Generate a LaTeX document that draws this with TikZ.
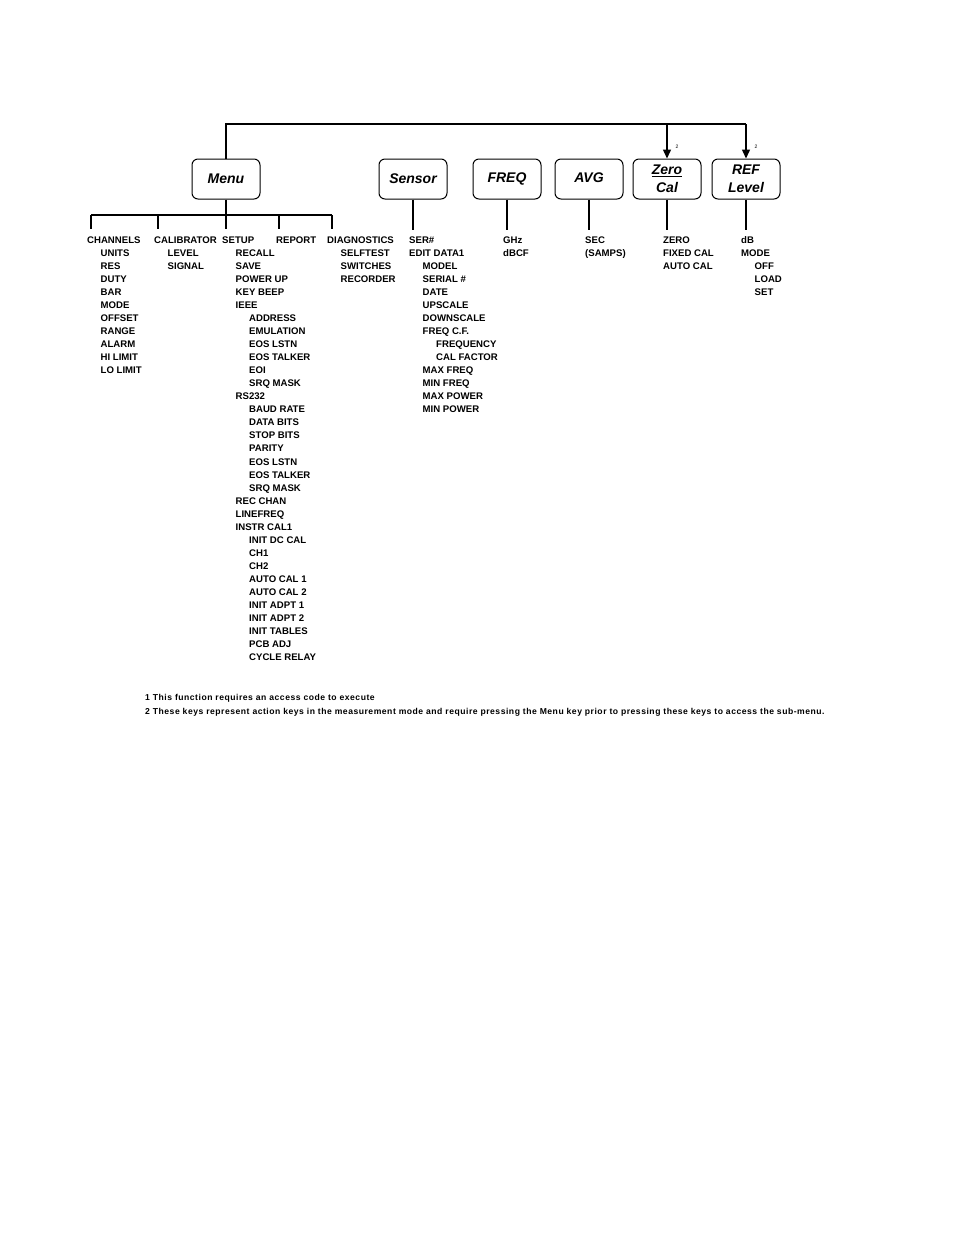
\documentclass[tikz,border=0pt]{standalone}
\usepackage{fontspec}
\setmainfont{Liberation Sans}
\newfontfamily\fnfont[LetterSpace=6]{Liberation Sans}
\usetikzlibrary{arrows.meta}
\begin{document}
\begin{tikzpicture}[x=1pt,y=-1pt,
  key/.style={draw,line width=1pt,rounded corners=6pt,minimum width=68pt,minimum height=40pt,inner sep=0pt,
    font=\fontsize{14}{17}\selectfont\bfseries\itshape,align=center},
  item/.style={anchor=base west,inner sep=0pt,font=\fontsize{9.6}{11}\selectfont\bfseries},
  conn/.style={line width=1.4pt},
  arr/.style={line width=1.4pt,-{Triangle[width=8pt,length=9pt]}},
  fnote/.style={anchor=base west,inner sep=0pt,font=\fnfont\fontsize{8.6}{9}\selectfont\bfseries},
  tiny/.style={inner sep=0pt,font=\fontsize{5}{6}\selectfont}]
\useasboundingbox (0,0) rectangle (954,1235);
\def\rs{13.06}
\def\ind{13.5}
\def\by{243}
% keys
\node[key] (menu) at (226,179) {Menu};
\node[key] (sensor) at (413,179) {Sensor};
\node[key] (freq) at (507,179) {\strut FREQ};
\node[key] (avg) at (589,179) {\strut AVG};
\node[key] (zero) at (667,179) {\underline{Zero}\\[1pt]Cal};
\node[key] (ref) at (746,179) {REF\\[1pt]Level};
% top connector
\coordinate (tl) at (226,124);
\coordinate (tr) at (746,124);
\draw[conn] (menu.north) -- (tl) -- (tr);
\draw[arr] (tr) -- (ref.north);
\draw[arr] (zero.north |- tl) -- (zero.north);
\node[tiny] (n2a) at (677,147) {2};
\node[tiny] (n2b) at (756,147) {2};
% menu branches
\coordinate (mb) at (226,215);
\coordinate (b1) at (91,215);
\coordinate (b5) at (332,215);
\draw[conn] (menu.south) -- (mb);
\draw[conn] (b1) -- (b5);
\foreach \x/\n in {91/c1,158/c2,226/c3,279/c4,332/c5}{
  \coordinate (\n) at (\x,229);
  \draw[conn] (\x,215) -- (\n);
}
\foreach \k in {sensor,freq,avg,zero,ref}{
  \coordinate (\k e) at ([yshift=-30pt]\k.south);
  \draw[conn] (\k.south) -- (\k e);
}
% lists
\foreach \t/\d [count=\i from 0] in {CHANNELS/0,UNITS/1,RES/1,DUTY/1,BAR/1,MODE/1,OFFSET/1,RANGE/1,ALARM/1,HI LIMIT/1,LO LIMIT/1}
  \node[item] (ch\i) at (87+\ind*\d,\by+\rs*\i) {\t};
\foreach \t/\d [count=\i from 0] in {CALIBRATOR/0,LEVEL/1,SIGNAL/1}
  \node[item] (ca\i) at (154+\ind*\d,\by+\rs*\i) {\t};
\foreach \t/\d [count=\i from 0] in {SETUP/0,RECALL/1,SAVE/1,POWER UP/1,KEY BEEP/1,IEEE/1,ADDRESS/2,EMULATION/2,EOS LSTN/2,EOS TALKER/2,EOI/2,SRQ MASK/2,RS232/1,BAUD RATE/2,DATA BITS/2,STOP BITS/2,PARITY/2,EOS LSTN/2,EOS TALKER/2,SRQ MASK/2,REC CHAN/1,LINEFREQ/1,INSTR CAL1/1,INIT DC CAL/2,CH1/2,CH2/2,AUTO CAL 1/2,AUTO CAL 2/2,INIT ADPT 1/2,INIT ADPT 2/2,INIT TABLES/2,PCB ADJ/2,CYCLE RELAY/2}
  \node[item] (su\i) at (222+\ind*\d,\by+\rs*\i) {\t};
\node[item] (rep0) at (276,\by) {REPORT};
\foreach \t/\d [count=\i from 0] in {DIAGNOSTICS/0,SELFTEST/1,SWITCHES/1,RECORDER/1}
  \node[item] (dg\i) at (327+\ind*\d,\by+\rs*\i) {\t};
\foreach \t/\d [count=\i from 0] in {SER\#/0,EDIT DATA1/0,MODEL/1,SERIAL \#/1,DATE/1,UPSCALE/1,DOWNSCALE/1,FREQ C.F./1,FREQUENCY/2,CAL FACTOR/2,MAX FREQ/1,MIN FREQ/1,MAX POWER/1,MIN POWER/1}
  \node[item] (se\i) at (409+\ind*\d,\by+\rs*\i) {\t};
\foreach \t/\d [count=\i from 0] in {GHz/0,dBCF/0}
  \node[item] (fq\i) at (503+\ind*\d,\by+\rs*\i) {\t};
\foreach \t/\d [count=\i from 0] in {SEC/0,(SAMPS)/0}
  \node[item] (av\i) at (585+\ind*\d,\by+\rs*\i) {\t};
\foreach \t/\d [count=\i from 0] in {ZERO/0,FIXED CAL/0,AUTO CAL/0}
  \node[item] (ze\i) at (663+\ind*\d,\by+\rs*\i) {\t};
\foreach \t/\d [count=\i from 0] in {dB/0,MODE/0,OFF/1,LOAD/1,SET/1}
  \node[item] (rf\i) at (741+\ind*\d,\by+\rs*\i) {\t};
% footnotes
\node[fnote] (f1) at (145,700) {1 This function requires an access code to execute};
\node[fnote] (f2) at (145,714) {2 These keys represent action keys in the measurement mode and require pressing the Menu key prior to pressing these keys to access the sub-menu.};
\end{tikzpicture}
\end{document}
